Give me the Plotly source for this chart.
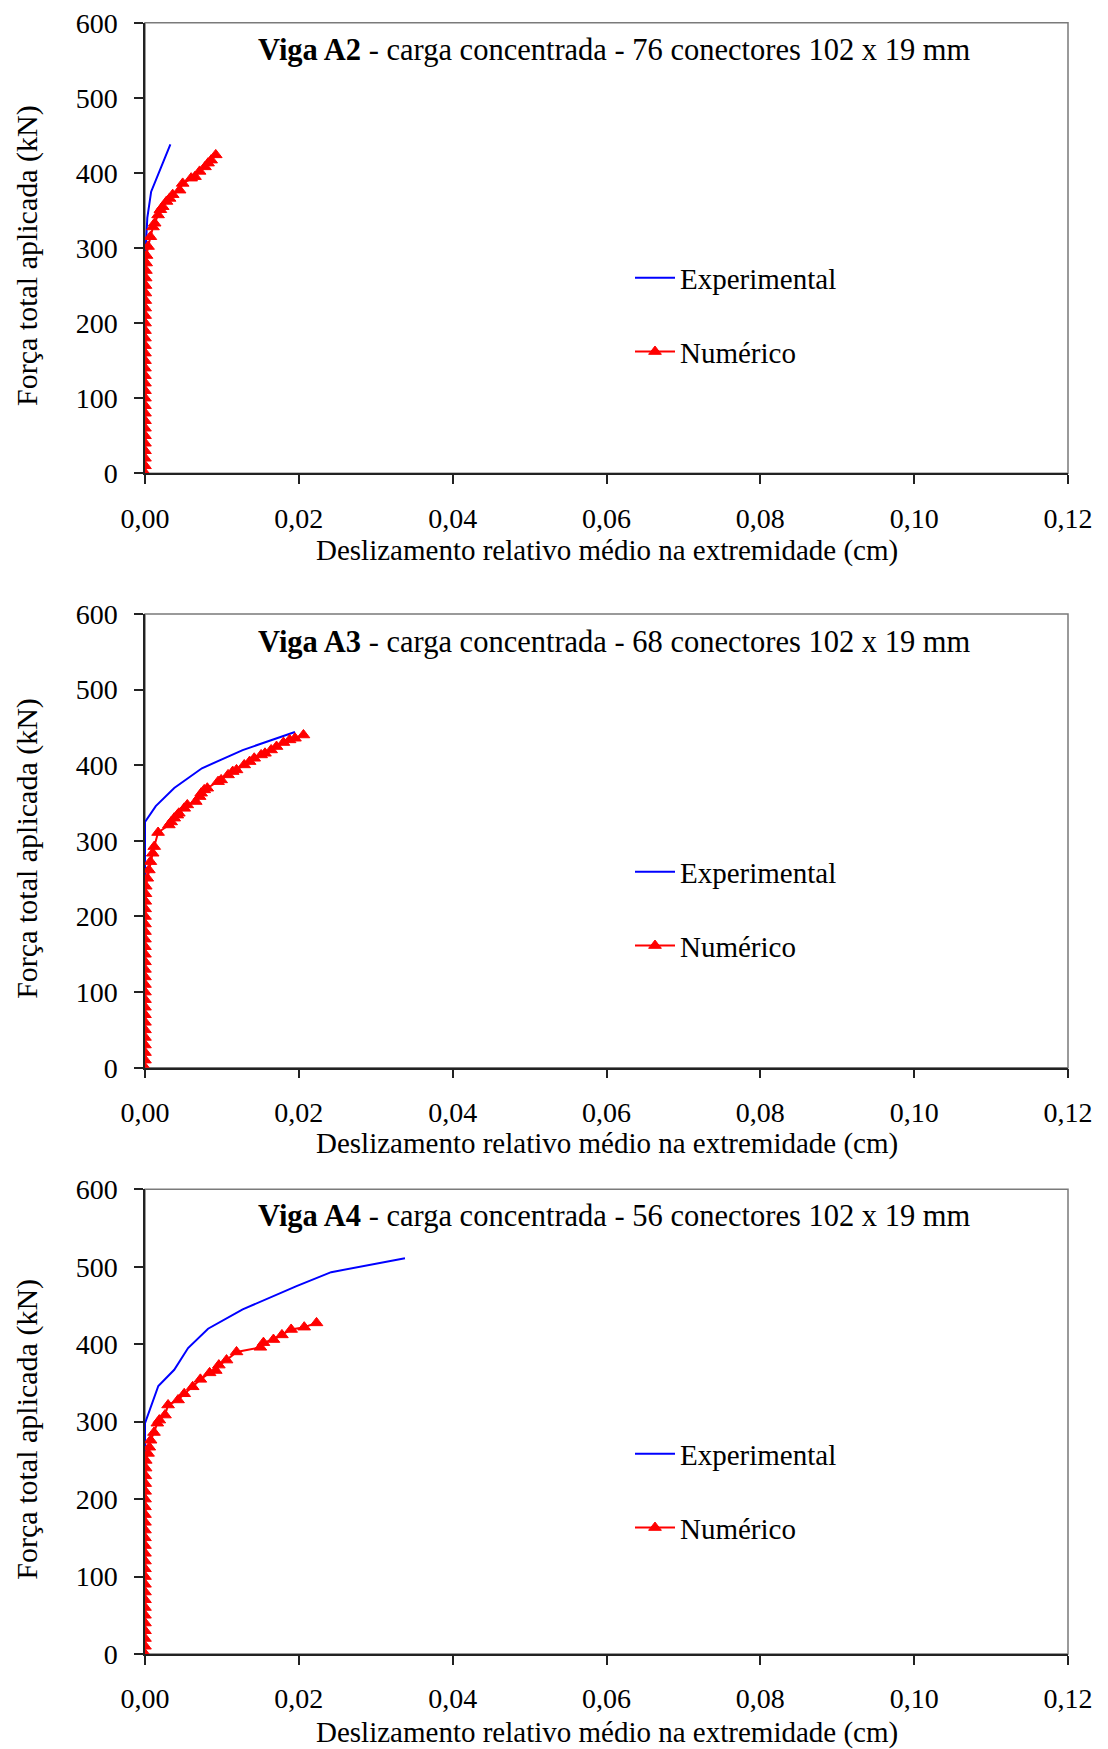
import plotly.graph_objects as go

# ---------------- data ----------------
x_ticks = [0, 0.02, 0.04, 0.06, 0.08, 0.10, 0.12]
x_ticklabels = ["0,00", "0,02", "0,04", "0,06", "0,08", "0,10", "0,12"]
y_ticks = [0, 100, 200, 300, 400, 500, 600]
y_ticklabels = ["0", "100", "200", "300", "400", "500", "600"]

series_names = ["Experimental", "Numérico"]
titles_bold = ["Viga A2", "Viga A3", "Viga A4"]
titles_rest = [" - carga concentrada - 76 conectores 102 x 19 mm",
               " - carga concentrada - 68 conectores 102 x 19 mm",
               " - carga concentrada - 56 conectores 102 x 19 mm"]
x_title = "Deslizamento relativo médio na extremidade (cm)"
y_title = "Força total aplicada (kN)"

# Viga A2
a2_exp_x = [0, 0, 0, 0.0001, 0.0003, 0.0008, 0.0021, 0.0033]
a2_exp_y = [0, 150, 250, 300, 340, 375, 408, 438]
a2_num_x = [0, 0, 0, 0, 0, 0, 0, 0, 0, 0,
            0, 0, 0, 0, 0, 0, 0, 0, 0, 0,
            0.00001, 0.00002, 0.00003, 0.00004, 0.00005, 0.00007, 0.00009, 0.00012, 0.00015, 0.0002,
            0.0004, 0.0007, 0.00104, 0.00126, 0.0017, 0.002, 0.0023, 0.0028, 0.0032, 0.0036,
            0.0045, 0.0049, 0.006, 0.0065, 0.0071, 0.0078, 0.0082, 0.0086, 0.0092]
a2_num_y = [0, 10, 20, 30, 40, 50, 60, 70, 80, 90,
            100, 110, 120, 130, 140, 150, 160, 170, 180, 190,
            200, 210, 220, 230, 240, 250, 260, 270, 280, 290,
            302, 315, 328, 333, 344, 351, 355, 362, 366, 371,
            377, 386, 393, 395, 402, 408, 413, 417, 424]

# Viga A3
a3_exp_x = [0, 0, 0, 0, 0.0014, 0.0038, 0.0074, 0.0127, 0.0195]
a3_exp_y = [0, 150, 240, 325, 346, 370, 396, 420, 444]
a3_num_x = [0, 0, 0, 0, 0, 0, 0, 0, 0, 0,
            0, 0, 0, 0, 0, 0, 0, 0, 0, 0,
            0.00001, 0.00002, 0.00004, 0.00006, 0.0001,
            0.0003, 0.0005, 0.0007, 0.001, 0.0012, 0.0017, 0.0031, 0.0034, 0.0038, 0.0042,
            0.0044, 0.0051, 0.0055, 0.0066, 0.0071, 0.0073, 0.0077, 0.0081, 0.0095, 0.0099,
            0.0108, 0.0114, 0.0119, 0.0129, 0.0136, 0.0142, 0.0151, 0.0156, 0.0164, 0.0171,
            0.018, 0.0188, 0.0195, 0.0206]
a3_num_y = [0, 10, 20, 30, 40, 50, 60, 70, 80, 90,
            100, 110, 120, 130, 140, 150, 160, 170, 180, 190,
            200, 210, 220, 230, 240,
            250.5, 261.5, 272.5, 283.6, 292.4, 311, 321, 325, 330, 334,
            336.5, 343, 347.5, 352, 358.5, 363, 367.4, 369.6, 378.3, 380.6,
            387.2, 391.6, 393.8, 400.4, 404.8, 409.2, 413.6, 415.8, 420.2, 424.7,
            430, 433.5, 435.7, 440]

# Viga A4
a4_exp_x = [0, 0, 0, 0.00173, 0.0038, 0.0056, 0.0082, 0.0127, 0.0197, 0.0242, 0.0338]
a4_exp_y = [0, 150, 298, 346, 367, 395, 420, 445, 475, 493, 511]
a4_num_x = [0, 0, 0, 0, 0, 0, 0, 0, 0, 0,
            0, 0, 0, 0, 0, 0, 0, 0, 0, 0,
            0.00001, 0.00002, 0.00003, 0.00005, 0.00008, 0.0001,
            0.0004, 0.00056, 0.00073, 0.00117, 0.0016, 0.00186, 0.0026, 0.003, 0.0043, 0.0051,
            0.0062, 0.0072, 0.0084, 0.0092, 0.0096, 0.0106, 0.0119, 0.015, 0.0154, 0.0167,
            0.0178, 0.019, 0.0207, 0.0223]
a4_num_y = [0, 10, 20, 30, 40, 50, 60, 70, 80, 90,
            100, 110, 120, 130, 140, 150, 160, 170, 180, 190,
            200, 210, 220, 230, 240, 250,
            259, 267, 276, 286, 298, 302, 308.5, 321.5, 328, 336,
            345, 354.6, 363, 366, 373, 379.5, 390, 396, 402, 406,
            412, 419, 422, 427.5]

panels = [
    (a2_exp_x, a2_exp_y, a2_num_x, a2_num_y),
    (a3_exp_x, a3_exp_y, a3_num_x, a3_num_y),
    (a4_exp_x, a4_exp_y, a4_num_x, a4_num_y),
]

# ---------------- layout geometry (screen pixels; page body has an 8px margin) ----------------
OFF = 8
W, H = 1108 - OFF, 1749 - OFF
x_left, x_right = 145 - OFF, 1068 - OFF
plot_tops = [v - OFF for v in (22.7, 614.0, 1189.3)]
plot_bottoms = [v - OFF for v in (473.3, 1067.7, 1654.0)]
title_y = [v - OFF for v in (50, 641.6, 1216.2)]
xtitle_y = [v - OFF for v in (550, 1143, 1732)]
legend_center_y = [v - OFF for v in (315, 909, 1491)]
title_cx = 615 - OFF
ytitle_cx = 27 - OFF
legend_x = 630 - OFF

FONT = "Liberation Serif, Times New Roman, serif"
FS = 28

fig = go.Figure()
layout = dict(
    width=W, height=H,
    margin=dict(l=0, r=0, t=0, b=0, autoexpand=False),
    paper_bgcolor="white", plot_bgcolor="white",
    font=dict(family=FONT, size=FS, color="black"),
    showlegend=True,
)
annotations = []
shapes = []

for i, (ex, ey, nx, ny) in enumerate(panels):
    sfx = "" if i == 0 else str(i + 1)
    xa, ya = "x" + sfx, "y" + sfx
    leg = "legend" + sfx
    fig.add_trace(go.Scatter(
        x=ex, y=ey, mode="lines", name=series_names[0],
        line=dict(color="#0000FF", width=2),
        xaxis=xa, yaxis=ya, legend=leg, legendgroup="e" + sfx))
    fig.add_trace(go.Scatter(
        x=nx, y=ny, mode="lines+markers", name=series_names[1],
        line=dict(color="#FF0000", width=2),
        marker=dict(symbol="triangle-up", size=11, color="#FF0000",
                    line=dict(color="#FF0000", width=1)),
        xaxis=xa, yaxis=ya, legend=leg, legendgroup="n" + sfx))

    ydom = [1 - plot_bottoms[i] / H, 1 - plot_tops[i] / H]
    xdom = [x_left / W, x_right / W]
    layout["xaxis" + sfx] = dict(
        domain=xdom, anchor=ya, range=[0, 0.12], automargin=False,
        tickvals=x_ticks, ticktext=x_ticklabels, ticklabeloverflow="allow",
        ticks="outside", ticklen=9, tickwidth=1.5, tickcolor="#222",
        showline=True, linecolor="#222", linewidth=1.5,
        showgrid=False, zeroline=False,
        tickfont=dict(family=FONT, size=FS), ticklabelstandoff=10)
    layout["yaxis" + sfx] = dict(
        domain=ydom, anchor=xa, range=[0, 600], automargin=False,
        tickvals=y_ticks, ticktext=y_ticklabels, ticklabeloverflow="allow",
        ticks="outside", ticklen=9, tickwidth=1.5, tickcolor="#222",
        showline=True, linecolor="#222", linewidth=1.5,
        showgrid=False, zeroline=False,
        tickfont=dict(family=FONT, size=FS), ticklabelstandoff=11)
    layout[leg] = dict(
        x=legend_x / W, xanchor="left", y=1 - legend_center_y[i] / H, yanchor="middle",
        font=dict(family=FONT, size=29), bgcolor="rgba(0,0,0,0)",
        tracegroupgap=33, itemwidth=40)

    # plot-area border (gray)
    shapes.append(dict(type="rect", xref=xa + " domain", yref=ya + " domain",
                       x0=0, x1=1, y0=0, y1=1, layer="below",
                       line=dict(color="#7a7a7a", width=1.5)))

    annotations.append(dict(
        x=title_cx / W, y=1 - title_y[i] / H, xref="paper", yref="paper",
        text="<b>" + titles_bold[i] + "</b>" + titles_rest[i],
        showarrow=False, xanchor="center", yanchor="middle",
        font=dict(family=FONT, size=30.5)))
    annotations.append(dict(
        x=(x_left + x_right) / 2 / W, y=1 - xtitle_y[i] / H, xref="paper", yref="paper",
        text=x_title, showarrow=False, xanchor="center", yanchor="middle",
        font=dict(family=FONT, size=29)))
    annotations.append(dict(
        x=ytitle_cx / W, y=1 - ((plot_tops[i] + plot_bottoms[i]) / 2 + 8) / H,
        xref="paper", yref="paper",
        text=y_title, showarrow=False, textangle=-90,
        xanchor="center", yanchor="middle",
        font=dict(family=FONT, size=30)))

layout["annotations"] = annotations
layout["shapes"] = shapes
fig.update_layout(**layout)
fig.write_html("out.html")
